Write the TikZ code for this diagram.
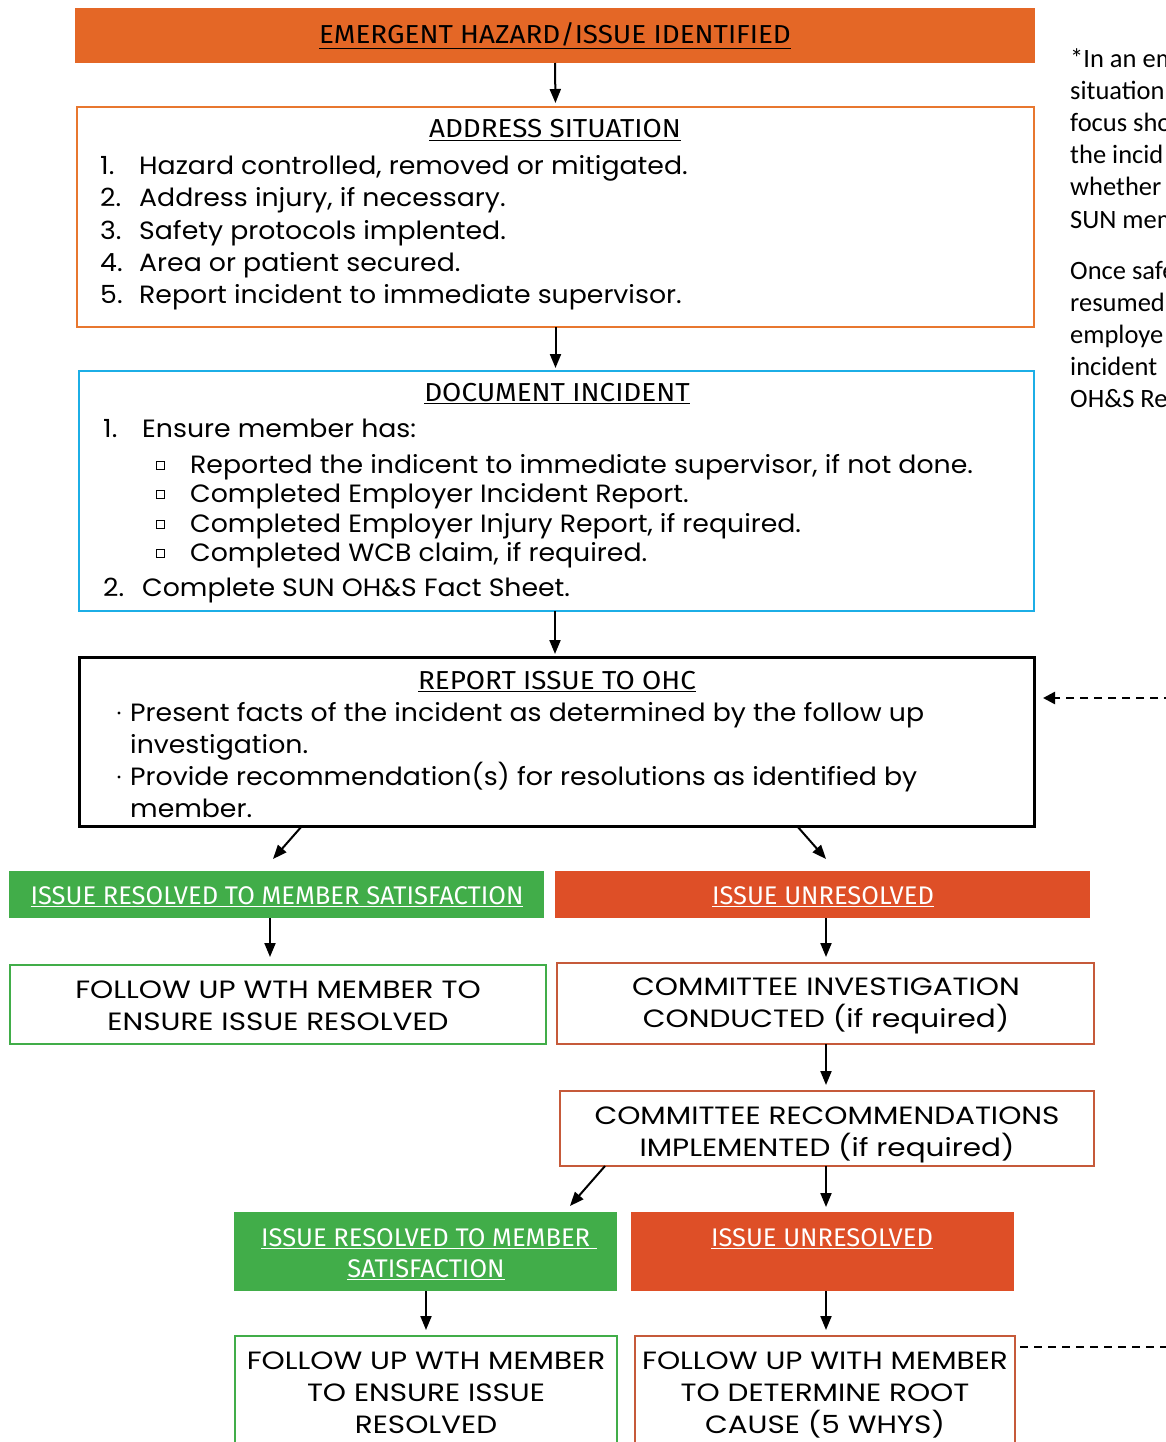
\documentclass[tikz,border=0pt]{standalone}
\usepackage{fontspec}
\setmainfont{Poppins}[FakeStretch=1.07]
\newfontfamily\capfont{Poppins}[FakeStretch=1.18]
\newfontfamily\headfont{Fira Sans}[FakeStretch=1.07]
\newfontfamily\bannerfont{Fira Sans}
\newfontfamily\sidefont{Carlito}
\usetikzlibrary{arrows.meta,calc}
\definecolor{toporange}{HTML}{E46726}
\definecolor{addrorange}{HTML}{E8772F}
\definecolor{docblue}{HTML}{1CAEE6}
\definecolor{okgreen}{HTML}{41AD49}
\definecolor{badred}{HTML}{DE4F27}
\definecolor{redline}{HTML}{C65A3A}
\begin{document}
\begin{tikzpicture}[x=1pt,y=-1pt,
  fillbox/.style={rectangle,inner sep=0,outer sep=0,draw=none},
  linebox/.style={rectangle,draw,line width=2.5pt,inner sep=0,outer sep=0},
  arr/.style={line width=2pt,-{Triangle[length=14pt,width=11pt]}},
  body/.style={font=\fontsize{25}{32}\selectfont,inner sep=0},
  capbody/.style={font=\capfont\fontsize{25}{32}\selectfont,inner sep=0},
  head/.style={font=\headfont\fontsize{26}{31}\selectfont,inner sep=0},
  banner/.style={font=\bannerfont\fontsize{25.5}{31}\selectfont,inner sep=0,text=white},
  side/.style={font=\sidefont\fontsize{26.5}{32}\selectfont,inner sep=0,anchor=base west},
  sq/.style={rectangle,draw,line width=1pt,minimum size=8pt,inner sep=0},
  dsh/.style={line width=2.5pt,dash pattern=on 8pt off 6pt}]
\useasboundingbox (0,0) rectangle (1166,1442);
\clip (0,0) rectangle (1166,1442);
% boxes
\node[fillbox,fill=toporange,minimum width=960pt,minimum height=55pt] (top) at (555,35.5) {};
\node[linebox,draw=addrorange,minimum width=957pt,minimum height=220pt] (addr) at (555.5,217) {};
\node[linebox,draw=docblue,minimum width=955pt,minimum height=240pt] (doc) at (556.5,491) {};
\node[linebox,draw=black,line width=3pt,minimum width=955pt,minimum height=169pt] (rep) at (556.5,741.5) {};
\node[fillbox,fill=okgreen,minimum width=535pt,minimum height=47pt] (g1) at (276.5,894.5) {};
\node[fillbox,fill=badred,minimum width=535pt,minimum height=47pt] (r1) at (822.5,894.5) {};
\node[linebox,draw=okgreen,minimum width=536pt,minimum height=79pt] (g1b) at (278,1004.5) {};
\node[linebox,draw=redline,minimum width=537pt,minimum height=81pt] (r1b) at (825.5,1003.5) {};
\node[linebox,draw=redline,minimum width=534pt,minimum height=75pt] (r2b) at (827,1128.5) {};
\node[fillbox,fill=okgreen,minimum width=383pt,minimum height=79pt] (g2) at (425.5,1251.5) {};
\node[fillbox,fill=badred,minimum width=383pt,minimum height=79pt] (r2) at (822.5,1251.5) {};
\node[linebox,draw=okgreen,minimum width=382pt,minimum height=124pt] (g3) at (426,1398) {};
\node[linebox,draw=redline,minimum width=380pt,minimum height=124pt] (r3) at (825,1398) {};
% titles
\node[head,anchor=base] (ttop) at (555,44) {\underline{EMERGENT HAZARD/ISSUE IDENTIFIED}};
\node[head,anchor=base] (taddr) at (555,138) {\underline{ADDRESS SITUATION}};
\node[head,anchor=base] (tdoc) at (557,401) {\underline{DOCUMENT INCIDENT}};
\node[head,anchor=base] (trep) at (557,689) {\underline{REPORT ISSUE TO OHC}};
\node[banner,anchor=base] (tg1) at (277,904) {\underline{ISSUE RESOLVED TO MEMBER SATISFACTION}};
\node[banner,anchor=base] (tr1) at (823,904) {\underline{ISSUE UNRESOLVED}};
\node[banner,anchor=base] (tg2a) at (429,1246) {\underline{ISSUE RESOLVED TO MEMBER\ }};
\node[banner,anchor=base] (tg2b) at (426,1277) {\underline{SATISFACTION}};
\node[banner,anchor=base] (tr2) at (822,1246) {\underline{ISSUE UNRESOLVED}};
% address list
\foreach \n/\t/\y in {1/Hazard controlled{,} removed or mitigated./175,
  2/Address injury{,} if necessary./207,
  3/Safety protocols implented./239,
  4/Area or patient secured./271,
  5/Report incident to immediate supervisor./303}{
  \node[body,anchor=base west] (an\n) at (100,\y) {\n.};
  \node[body,anchor=base west] (at\n) at (139,\y) {\t};
}
% document list
\node[body,anchor=base west] (dn1) at (103,437) {1.};
\node[body,anchor=base west] (dt1) at (142,437) {Ensure member has:};
\foreach \i/\t/\y in {1/Reported the indicent to immediate supervisor{,} if not done./473,
  2/Completed Employer Incident Report./502,
  3/Completed Employer Injury Report{,} if required./532,
  4/Completed WCB claim{,} if required./561}{
  \node[sq] (dsq\i) at (160.5,\y-8) {};
  \node[body,anchor=base west] (ds\i) at (190,\y) {\t};
}
\node[body,anchor=base west] (dn2) at (103,596) {2.};
\node[body,anchor=base west] (dt2) at (142,596) {Complete SUN OH\&S Fact Sheet.};
% report list
\fill (119,713) circle (1.6pt);
\fill (119,777) circle (1.6pt);
\node[body,anchor=base west] (rt1) at (130,721) {Present facts of the incident as determined by the follow up};
\node[body,anchor=base west] (rt2) at (130,753) {investigation.};
\node[body,anchor=base west] (rt3) at (130,785) {Provide recommendation(s) for resolutions as identified by};
\node[body,anchor=base west] (rt4) at (130,817) {member.};
% box texts
\node[capbody,anchor=base] (g1b1) at (278,998) {FOLLOW UP WTH MEMBER TO};
\node[capbody,anchor=base] (g1b2) at (278,1030) {ENSURE ISSUE RESOLVED};
\node[capbody,anchor=base] (r1b1) at (826,995) {COMMITTEE INVESTIGATION};
\node[capbody,anchor=base] (r1b2) at (826,1027) {CONDUCTED (if required)};
\node[capbody,anchor=base] (r2b1) at (827,1124) {COMMITTEE RECOMMENDATIONS};
\node[capbody,anchor=base] (r2b2) at (827,1156) {IMPLEMENTED (if required)};
\node[capbody,anchor=base] (g31) at (426,1369) {FOLLOW UP WTH MEMBER};
\node[capbody,anchor=base] (g32) at (426,1401) {TO ENSURE ISSUE};
\node[capbody,anchor=base] (g33) at (426,1433) {RESOLVED};
\node[capbody,anchor=base] (r31) at (825,1369) {FOLLOW UP WITH MEMBER};
\node[capbody,anchor=base] (r32) at (825,1401) {TO DETERMINE ROOT};
\node[capbody,anchor=base] (r33) at (825,1433) {CAUSE (5 WHYS)};
% side text (cut by the page edge, as in the reference)
\foreach \t/\y [count=\k] in {*In an em/68, situation/100, focus sho/132, the incid/164, whether/196, SUN mem/228,
  Once safe/279, resumed/311, employe/343, incident/375, OH\&S Re/407}{
  \node[side] (side\k) at (1070,\y) {\t};
}
% arrows
\draw[arr,shorten >=4pt] (top.south) -- (addr.north);
\draw[arr,shorten >=3pt] (addr.south) -- (addr.south |- doc.north);
\draw[arr,shorten >=3pt] ([xshift=-1.5pt]doc.south) -- ([xshift=-1.5pt]doc.south |- rep.north);
\draw[arr] ([xshift=223pt]rep.south west) -- ([xshift=264pt,yshift=12pt]g1.north west);
\draw[arr] ([xshift=718pt]rep.south west) -- ([xshift=271pt,yshift=12pt]r1.north west);
\draw[arr,shorten >=8pt] ([xshift=261pt]g1.south west) -- ([xshift=260pt]g1b.north west);
\draw[arr,shorten >=6pt] ([xshift=271pt]r1.south west) -- ([xshift=269pt]r1b.north west);
\draw[arr,shorten >=6pt] ([xshift=269pt]r1b.south west) -- ([xshift=266pt]r2b.north west);
\draw[arr] ([xshift=45pt]r2b.south west) -- ([xshift=336pt,yshift=6pt]g2.north west);
\draw[arr,shorten >=5pt] ([xshift=266pt]r2b.south west) -- ([xshift=195pt]r2.north west);
\draw[arr,shorten >=6pt] ([xshift=192pt]g2.south west) -- ([xshift=191pt]g3.north west);
\draw[arr,shorten >=6pt] ([xshift=195pt]r2.south west) -- ([xshift=191pt]r3.north west);
% dashed connectors
\coordinate (dashin) at (1172,698);
\coordinate (dashout) at (1172,1347);
\draw[dsh,-{Triangle[length=12pt,width=12pt]}] (dashin) -- ([xshift=9pt,yshift=43.5pt]rep.east);
\draw[dsh] ([xshift=5pt,yshift=-11pt]r3.north east) -- (dashout);
\end{tikzpicture}
\end{document}
